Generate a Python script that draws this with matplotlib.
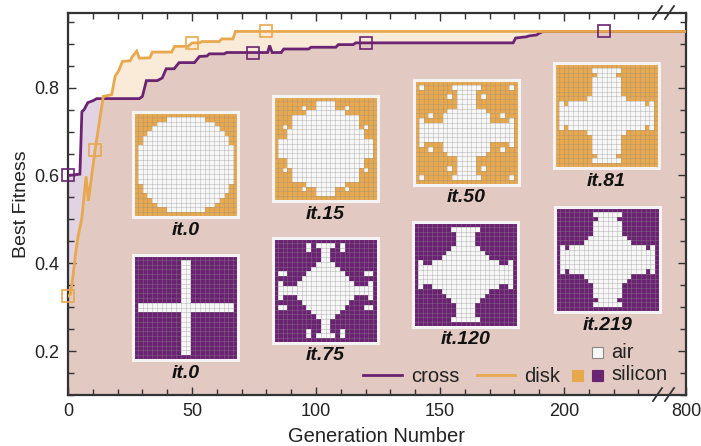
import numpy as np
import matplotlib
matplotlib.use('Agg')
import matplotlib.pyplot as plt
from matplotlib.ticker import FixedLocator
from matplotlib.patches import Rectangle

plt.rcParams['font.family'] = ['Liberation Sans', 'DejaVu Sans']

# ---------------- data ----------------
cross_gen = [0, 4.8, 5.6, 6.5, 8, 10, 11.6, 28.8, 30, 31.6, 36, 38, 39.6, 42.8, 44.8, 51, 53, 56, 57, 63, 64,
             80.5, 81.3, 82.3, 86, 87, 97, 98, 108, 109, 115, 116, 179.5, 180.5, 185, 186, 189, 190, 191.5, 800]
cross_fit = [0.600, 0.603, 0.745, 0.750, 0.766, 0.770, 0.775, 0.775, 0.780, 0.816, 0.816, 0.822, 0.843, 0.843,
             0.857, 0.857, 0.871, 0.872, 0.877, 0.877, 0.880, 0.880, 0.896, 0.880, 0.880, 0.888, 0.888, 0.892,
             0.892, 0.898, 0.898, 0.902, 0.902, 0.913, 0.916, 0.918, 0.920, 0.924, 0.928, 0.928]
disk_gen = [0, 1, 2, 3, 4, 5.5, 7.3, 8.2, 10.9, 14.2, 17.6, 19, 20.3, 22, 25, 26, 27.7, 28.8, 33, 34, 41.8, 43,
            48.5, 50, 53, 54, 61, 62, 66.5, 67.5, 800]
disk_fit = [0.325, 0.330, 0.370, 0.420, 0.460, 0.500, 0.598, 0.542, 0.657, 0.780, 0.784, 0.826, 0.837, 0.860,
            0.861, 0.871, 0.883, 0.867, 0.868, 0.881, 0.881, 0.894, 0.894, 0.902, 0.902, 0.905, 0.905, 0.911,
            0.911, 0.928, 0.928]
cross_mark_gen = [0, 74.6, 120, 216]
cross_mark_fit = [0.600, 0.880, 0.902, 0.928]
disk_mark_gen = [0, 10.9, 50, 79.8]
disk_mark_fit = [0.325, 0.657, 0.902, 0.928]

x_ticks = [0, 50, 100, 150, 200, 800]
x_ticklabels = ['0', '50', '100', '150', '200', '800']
y_ticks = [0.2, 0.4, 0.6, 0.8]
y_ticklabels = ['0.2', '0.4', '0.6', '0.8']

# design patterns: top-left quadrant (1 = air, 0 = silicon), mirrored to 22x22
q_disk0 = ["00000000000",
           "00000001111",
           "00000111111",
           "00001111111",
           "00011111111",
           "00111111111",
           "00111111111",
           "01111111111",
           "01111111111",
           "01111111111",
           "01111111111"]
q_disk15 = ["00000000000",
            "00000000011",
            "00000010011",
            "00000001111",
            "00001111111",
            "00001111111",
            "00101111111",
            "00011111111",
            "00011111111",
            "01111111111",
            "01111111111"]
q_disk50 = ["00000000000",
            "01000000111",
            "00000000011",
            "00000001011",
            "00000000011",
            "00000000011",
            "00000001111",
            "00010011111",
            "01000011111",
            "01111111111",
            "01111111111"]
q_disk81 = ["00000000000",
            "00000000111",
            "00000000011",
            "00000000111",
            "00000000111",
            "00000000111",
            "00000000111",
            "00000001111",
            "01011111111",
            "01111111111",
            "01111111111"]
q_cross0 = ["00000000000",
            "00000000001",
            "00000000001",
            "00000000001",
            "00000000001",
            "00000000001",
            "00000000001",
            "00000000001",
            "00000000001",
            "00000000001",
            "01111111111"]
q_cross75 = ["00000000000",
             "00000001011",
             "00000001001",
             "00000000001",
             "00000000001",
             "00000000011",
             "00000000111",
             "01100001111",
             "00000011111",
             "01000111111",
             "01111111111"]
q_cross120 = ["00000000000",
              "00000000111",
              "00000000011",
              "00000000011",
              "00000000011",
              "00000000111",
              "00000001111",
              "00000011111",
              "01001111111",
              "01111111111",
              "01111111111"]
q_cross219 = ["00000000000",
              "00000000111",
              "00000000011",
              "00000000111",
              "00000000111",
              "00000000111",
              "00000001111",
              "00000011111",
              "01011111111",
              "01111111111",
              "01111111111"]

insets = [  # (quadrant, material, label)
    (q_disk0, 'disk', 'it.0'), (q_disk15, 'disk', 'it.15'), (q_disk50, 'disk', 'it.50'), (q_disk81, 'disk', 'it.81'),
    (q_cross0, 'cross', 'it.0'), (q_cross75, 'cross', 'it.75'), (q_cross120, 'cross', 'it.120'),
    (q_cross219, 'cross', 'it.219'),
]

# ---------------- style ----------------
PURPLE = '#6B2372'
ORANGE = '#E8A84E'
TXT = '#222222'
W, H = 701, 446

fig = plt.figure(figsize=(W / 100, H / 100), dpi=100)
ax = fig.add_axes([68 / W, 1 - 395 / H, 618 / W, 382 / H])

B = 240.0
K = (249.2 - 240.0) / (800.0 - 240.0)


def fwd(x):
    x = np.asarray(x, dtype=float)
    return np.where(x <= B, x, B + (x - B) * K)


def inv(y):
    y = np.asarray(y, dtype=float)
    return np.where(y <= B, y, B + (y - B) / K)


ax.set_xscale('function', functions=(fwd, inv))
ax.set_xlim(0, 800)
ax.set_ylim(0.1, 0.97)

ax.fill_between(cross_gen, 0.1, cross_fit, color=PURPLE, alpha=0.2, lw=0, zorder=1)
ax.fill_between(disk_gen, 0.1, disk_fit, color=ORANGE, alpha=0.22, lw=0, zorder=1)
ax.plot(cross_gen, cross_fit, color=PURPLE, lw=2.0, zorder=3, solid_joinstyle='miter')
ax.plot(disk_gen, disk_fit, color=ORANGE, lw=2.0, zorder=4, solid_joinstyle='miter')
ax.plot(cross_mark_gen, cross_mark_fit, ls='none', marker='s', ms=8, mfc='none', mec=PURPLE, mew=1.2,
        zorder=5, clip_on=False)
ax.plot(disk_mark_gen, disk_mark_fit, ls='none', marker='s', ms=8, mfc='none', mec=ORANGE, mew=1.2,
        zorder=5, clip_on=False)

ax.xaxis.set_major_locator(FixedLocator(x_ticks))
ax.set_xticklabels(x_ticklabels)
ax.xaxis.set_minor_locator(FixedLocator([v for v in range(10, 240, 10) if v % 50 != 0]))
ax.yaxis.set_major_locator(FixedLocator(y_ticks))
ax.set_yticklabels(y_ticklabels)
ax.yaxis.set_minor_locator(FixedLocator(np.round(np.arange(0.1, 0.97, 0.05), 2)))
ax.tick_params(which='both', direction='in', top=True, right=True, color='#333333', width=1.0,
               labelsize=13, labelcolor=TXT, pad=6)
ax.tick_params(which='major', length=6)
ax.tick_params(which='minor', length=4)
for s in ax.spines.values():
    s.set_linewidth(1.6)
    s.set_color('#333333')

ax.set_xlabel('Generation Number', fontsize=14.5, color=TXT, labelpad=5)
ax.set_ylabel('Best Fitness', fontsize=14, color=TXT, labelpad=3)

# axis break marks
for yb in (1.0, 0.0):
    for xp in (653, 665):
        x0 = (xp - 68) / 618
        ax.plot([x0, x0 + 9 / 618], [yb - 6 / 382, yb + 7 / 382], transform=ax.transAxes, color='#333333',
                lw=1.3, clip_on=False, zorder=10)


# legend (drawn manually)
def axc(px, py):
    return ((px - 68) / 618, (395 - py) / 382)


tr = ax.transAxes
LFS = 14.5
x0, y0 = axc(363, 375); x1, _ = axc(402, 375)
ax.plot([x0, x1], [y0, y0], transform=tr, color=PURPLE, lw=2, zorder=6)
ax.text(*axc(411, 376), 'cross', transform=tr, fontsize=LFS, va='center', ha='left', color=TXT, zorder=6)
x0, y0 = axc(477, 375); x1, _ = axc(515, 375)
ax.plot([x0, x1], [y0, y0], transform=tr, color=ORANGE, lw=2, zorder=6)
ax.text(*axc(524, 376), 'disk', transform=tr, fontsize=LFS, va='center', ha='left', color=TXT, zorder=6)
for (px, py, fc, ec) in [(572, 370, ORANGE, ORANGE), (592, 370, PURPLE, PURPLE), (592, 347, '#F7F7F7', '#888888')]:
    xa, ya = axc(px, py + 11)
    ax.add_patch(Rectangle((xa, ya), 11 / 618, 11 / 382, transform=tr, facecolor=fc, edgecolor=ec, lw=0.8,
                           zorder=6, clip_on=False))
ax.text(*axc(611, 375), 'silicon', transform=tr, fontsize=LFS, va='center', ha='left', color=TXT, zorder=6)
ax.text(*axc(611, 352), 'air', transform=tr, fontsize=LFS, va='center', ha='left', color=TXT, zorder=6)

# insets
boxes = [(133, 112), (273, 96), (414, 80), (554, 63),
         (133, 255), (273, 238), (413, 222), (555, 207)]
SIZE = 105
col_rgb = {'disk': np.array([232, 168, 78]) / 255, 'cross': np.array([108, 34, 114]) / 255}
air_rgb = np.array([247, 247, 247]) / 255
for (quad, mat, lab), (bx, by) in zip(insets, boxes):
    q = np.array([[int(c) for c in row] for row in quad])
    top = np.hstack([q, q[:, ::-1]])
    full = np.vstack([top, top[::-1, :]])
    n = full.shape[0]
    img = np.where(full[..., None] == 1, air_rgb, col_rgb[mat])
    iax = fig.add_axes([bx / W, 1 - (by + SIZE) / H, SIZE / W, SIZE / H])
    iax.imshow(img, interpolation='nearest', extent=(0, n, n, 0))
    for k in range(1, n):
        iax.axhline(k, color='#8C8C8C', lw=0.5, alpha=0.45)
        iax.axvline(k, color='#8C8C8C', lw=0.5, alpha=0.45)
    iax.set_xlim(0, n); iax.set_ylim(n, 0)
    iax.set_xticks([]); iax.set_yticks([])
    for s in iax.spines.values():
        s.set_color('#F4F4F4')
        s.set_linewidth(2.2)
    fig.text((bx + SIZE / 2) / W, 1 - (by + SIZE + 13) / H, lab, fontsize=14, fontweight='bold',
             fontstyle='italic', ha='center', va='center', color='#111111')

fig.savefig('out.png', dpi=100)
